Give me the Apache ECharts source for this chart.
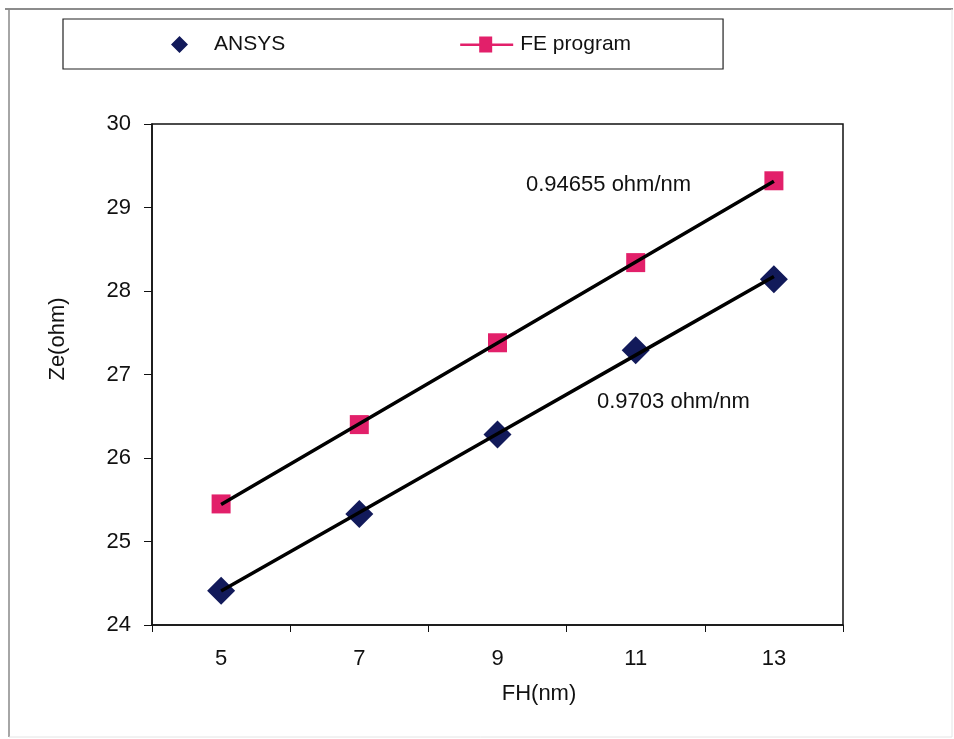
<!DOCTYPE html>
<html>
<head>
<meta charset="utf-8">
<script src="https://cdn.jsdelivr.net/npm/echarts@6/dist/echarts.min.js"></script>
<style>
  html, body { margin: 0; padding: 0; background: #fff; }
  #chart { width: 954px; height: 739px; }
</style>
</head>
<body>
<div id="chart"></div>
<script>
// FH thickness values (nm) and computed impedance Ze (ohm)
const fhValues = ['5', '7', '9', '11', '13'];
const ansysZe = [24.41, 25.33, 26.28, 27.29, 28.14];
const feProgramZe = [25.45, 26.40, 27.38, 28.34, 29.32];
const yTicks = { min: 24, max: 30, step: 1 };
const slopeLabels = ['0.94655 ohm/nm', '0.9703 ohm/nm'];

// least-squares straight line through a series, evaluated at each category
function linearFit(xs, ys) {
  const n = xs.length;
  const mx = xs.reduce((a, b) => a + b, 0) / n;
  const my = ys.reduce((a, b) => a + b, 0) / n;
  let sxy = 0, sxx = 0;
  for (let i = 0; i < n; i++) {
    sxy += (xs[i] - mx) * (ys[i] - my);
    sxx += (xs[i] - mx) * (xs[i] - mx);
  }
  const k = sxy / sxx;
  return xs.map(x => +(my + k * (x - mx)).toFixed(4));
}
const xsNum = fhValues.map(Number);
const ansysFit = linearFit(xsNum, ansysZe);
const feFit = linearFit(xsNum, feProgramZe);

const FONT = 'Liberation Sans, Arial, sans-serif';
const FS = 22;
const NAVY = '#121a5a';
const PINK = '#e2206a';

// legend icons: the two zero-size corner points fix the icon box at 56x18
const ICON_BOX = 'M0,0L0.01,0Z M56,18L55.99,18Z ';
const ansysIcon = 'path://' + ICON_BOX + 'M26.5,0.5L35,9L26.5,17.5L18,9Z';
const feIcon = 'path://' + ICON_BOX + 'M1,8L54,8L54,10.5L1,10.5Z M20,1L33,1L33,17L20,17Z';

const chart = echarts.init(document.getElementById('chart'), null, { renderer: 'canvas' });
chart.setOption({
  backgroundColor: '#fff',
  animation: false,
  textStyle: { fontFamily: FONT, color: '#111' },
  grid: {
    left: 152, top: 124, width: 691, height: 501,
    show: true, borderColor: '#111', borderWidth: 1.5, backgroundColor: 'transparent'
  },
  legend: {
    left: 63, top: 19,
    padding: [15, 92, 14, 90],
    borderColor: '#222', borderWidth: 1.2,
    itemWidth: 56, itemHeight: 18, itemGap: 174,
    textStyle: { fontFamily: FONT, fontSize: 21, color: '#111' },
    data: [
      { name: 'ANSYS', icon: ansysIcon, itemStyle: { color: NAVY } },
      { name: 'FE program', icon: feIcon, itemStyle: { color: PINK } }
    ]
  },
  xAxis: {
    type: 'category',
    data: fhValues,
    boundaryGap: true,
    name: 'FH(nm)',
    nameLocation: 'middle',
    nameGap: 58,
    nameTextStyle: { fontFamily: FONT, fontSize: FS, color: '#111', padding: [0, 0, 0, 83] },
    axisLine: { lineStyle: { color: '#111', width: 1.5 } },
    axisTick: { show: true, length: 7, lineStyle: { color: '#111' } },
    axisLabel: { fontFamily: FONT, fontSize: FS, color: '#111', margin: 23 },
    splitLine: { show: false }
  },
  yAxis: {
    type: 'value',
    min: yTicks.min, max: yTicks.max, interval: yTicks.step,
    name: 'Ze(ohm)',
    nameLocation: 'middle',
    nameGap: 83,
    nameTextStyle: { fontFamily: FONT, fontSize: FS, color: '#111', padding: [0, 0, 0, 71] },
    axisLine: { show: true, lineStyle: { color: '#111', width: 1.5 } },
    axisTick: { show: true, length: 8, lineStyle: { color: '#111' } },
    axisLabel: { fontFamily: FONT, fontSize: FS, color: '#111', margin: 21 },
    splitLine: { show: false }
  },
  series: [
    {
      name: 'ANSYS fit', type: 'line', data: ansysFit,
      showSymbol: false, symbol: 'none', silent: true,
      lineStyle: { color: '#000', width: 3.5 }, z: 3
    },
    {
      name: 'FE program fit', type: 'line', data: feFit,
      showSymbol: false, symbol: 'none', silent: true,
      lineStyle: { color: '#000', width: 3.5 }, z: 3
    },
    {
      name: 'ANSYS', type: 'scatter', data: ansysZe,
      symbol: 'diamond', symbolSize: 28,
      itemStyle: { color: NAVY, opacity: 1 }, z: 2
    },
    {
      name: 'FE program', type: 'scatter', data: feProgramZe,
      symbol: 'rect', symbolSize: 19,
      itemStyle: { color: PINK, opacity: 1 }, z: 2
    }
  ],
  graphic: [
    // page frame
    { type: 'line', shape: { x1: 5, y1: 9, x2: 953, y2: 9 }, style: { stroke: '#666', lineWidth: 1.5 } },
    { type: 'line', shape: { x1: 9, y1: 9, x2: 9, y2: 737 }, style: { stroke: '#888', lineWidth: 1.5 } },
    { type: 'line', shape: { x1: 952, y1: 9, x2: 952, y2: 737 }, style: { stroke: '#e4e4e4', lineWidth: 1 } },
    { type: 'line', shape: { x1: 9, y1: 737, x2: 952, y2: 737 }, style: { stroke: '#e4e4e4', lineWidth: 1 } },
    // slope annotations
    { type: 'text', left: 526, top: 174,
      style: { text: slopeLabels[0], font: FS + 'px ' + FONT, fill: '#111' } },
    { type: 'text', left: 597, top: 391,
      style: { text: slopeLabels[1], font: FS + 'px ' + FONT, fill: '#111' } }
  ]
});
</script>
</body>
</html>
